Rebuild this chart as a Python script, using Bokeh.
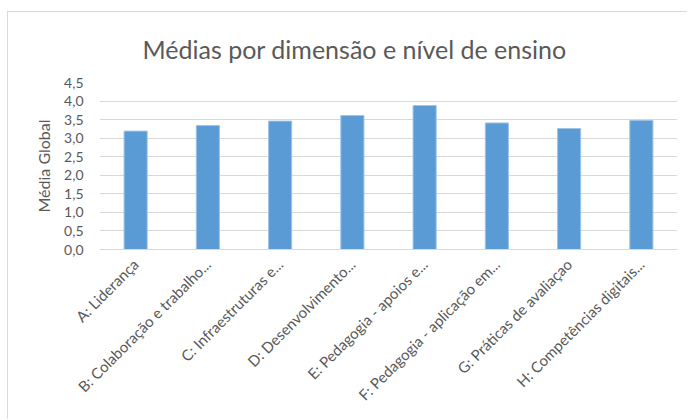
from bokeh.plotting import figure
from bokeh.models import FactorRange, FixedTicker, Range1d, Title
from bokeh.embed import file_html
from bokeh.resources import INLINE
import math

categories = [
    "A: Liderança",
    "B: Colaboração e trabalho...",
    "C: Infraestruturas e...",
    "D: Desenvolvimento...",
    "E: Pedagogia - apoios e...",
    "F: Pedagogia - aplicação em...",
    "G: Práticas de avaliaçao",
    "H: Competências digitais...",
]
values = [3.19, 3.34, 3.46, 3.61, 3.88, 3.41, 3.26, 3.48]
y_ticks = [0, 0.5, 1.0, 1.5, 2.0, 2.5, 3.0, 3.5, 4.0, 4.5]
y_tick_labels = ["0,0", "0,5", "1,0", "1,5", "2,0", "2,5", "3,0", "3,5", "4,0", "4,5"]

FONT = "Lato"
GREY = "#595959"

p = figure(
    width=680, height=408,
    x_range=FactorRange(*categories, range_padding=0),
    y_range=Range1d(0, 4.5),
    output_backend="svg", toolbar_location=None,
    min_border_left=91, min_border_right=11, min_border_top=69, min_border_bottom=171,
)
p.styles = {"border-top": "1px solid #d9d9d9", "border-left": "1px solid #d9d9d9",
            "margin-top": "11px", "margin-left": "7px"}

t = Title(text="Médias por dimensão e nível de ensino", align="left",
          text_font=FONT, text_font_size="25px", text_font_style="normal",
          text_color=GREY, offset=43, standoff=38)
p.add_layout(t, "above")

p.vbar(x=categories, top=values, width=0.32, fill_color="#5b9bd5",
       line_color="#9dc3e6", line_width=1)

p.outline_line_color = None
p.background_fill_color = "white"
p.border_fill_color = "white"

p.ygrid.grid_line_color = "#d9d9d9"
p.ygrid.grid_line_width = 1
p.xgrid.grid_line_color = None

p.yaxis.ticker = FixedTicker(ticks=y_ticks)
p.yaxis.major_label_overrides = {k: v for k, v in zip(y_ticks, y_tick_labels)}
p.yaxis.axis_line_color = None
p.yaxis.major_tick_line_color = None
p.yaxis.minor_tick_line_color = None
p.yaxis.major_label_text_font = FONT
p.yaxis.major_label_text_font_size = "14px"
p.yaxis.major_label_text_color = GREY
p.yaxis.major_label_standoff = 10
p.yaxis.axis_label = "Média Global"
p.yaxis.axis_label_text_font = FONT
p.yaxis.axis_label_text_font_size = "16px"
p.yaxis.axis_label_text_font_style = "normal"
p.yaxis.axis_label_text_color = GREY
p.yaxis.axis_label_standoff = 8

p.xaxis.axis_line_color = "#d9d9d9"
p.xaxis.major_tick_line_color = None
p.xaxis.minor_tick_line_color = None
p.xaxis.major_label_orientation = math.pi / 4
p.xaxis.major_label_text_font = FONT
p.xaxis.major_label_text_font_size = "15px"
p.xaxis.major_label_text_color = GREY
p.xaxis.major_label_standoff = 6

open("out.html", "w").write(file_html(p, INLINE))
